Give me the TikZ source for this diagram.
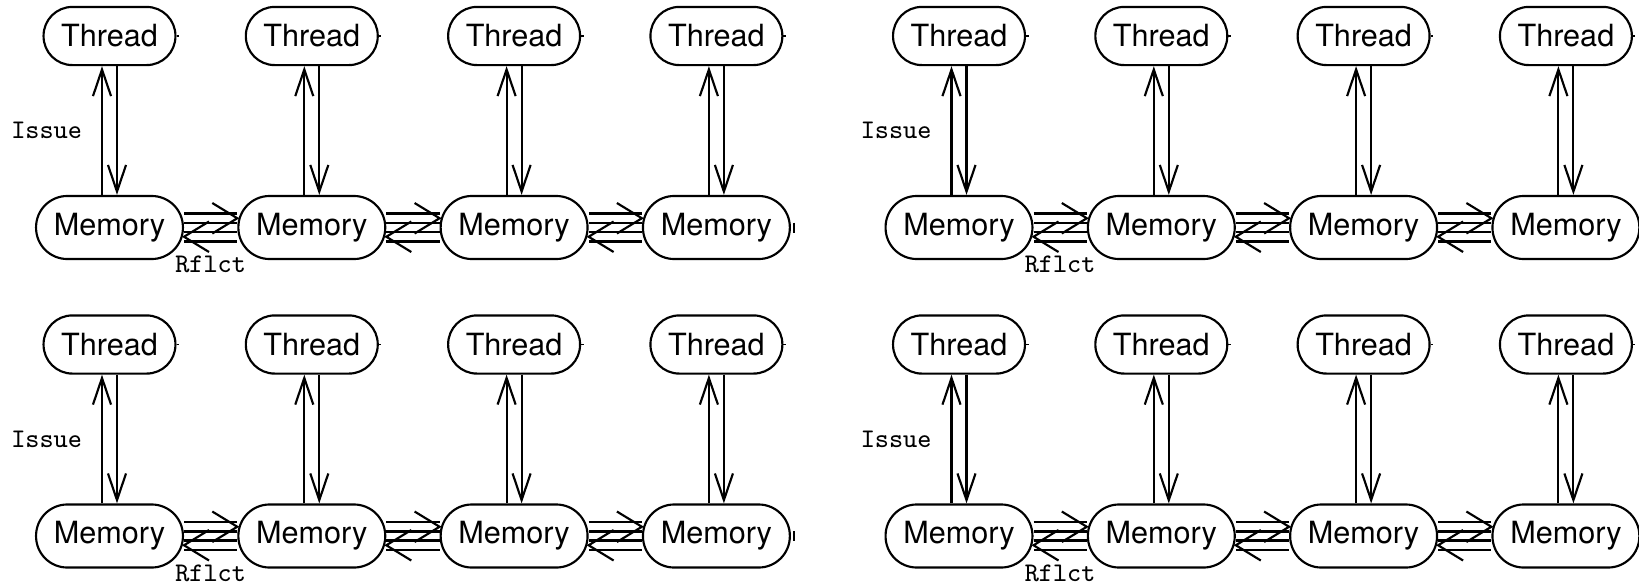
\documentclass[tikz,border=0pt]{standalone}
\usepackage{fontspec}
\setmainfont{TeX Gyre Heros}
\usetikzlibrary{arrows.meta}

\begin{document}
\begin{tikzpicture}[x=0.3268pt,y=0.3268pt,line width=0.7pt,
    >={Straight Barb[length=8.7pt,width=5.9pt]},
    thr/.style={draw,rounded corners=9.4pt,inner sep=0pt,minimum width=43.1pt,minimum height=19pt,font=\fontsize{10}{12}\selectfont},
    mem/.style={thr,rounded corners=10.2pt,minimum width=48pt,minimum height=20.6pt},
    rail/.style={double,double distance=2.4pt},
    lbl/.style={font=\ttfamily\fontsize{8.8}{10}\selectfont,inner sep=0pt}]
    \useasboundingbox (0,0) rectangle (1639,584);
    \foreach \p in {0,1}{
      \foreach \r/\yt/\ym in {0/548/356.5,1/239.5/48}{
        \foreach \c in {0,...,3}{
          \node[thr] (t\p\r\c) at (109.5+849.5*\p+202.3*\c,\yt) {Thread};
          \node[mem] (m\p\r\c) at (109.5+849.5*\p+202.3*\c,\ym) {Memory};
          \draw ([shift={(-7.5,0)}]m\p\r\c.north) edge[->] ([shift={(-7.5,0)}]t\p\r\c.south)
                ([shift={(7.5,0)}]t\p\r\c.south) edge[->] ([shift={(7.5,0)}]m\p\r\c.north);
          \draw[line width=0.5pt] (t\p\r\c.east) --++(2.5,0);
        }
        \foreach \c [count=\d] in {0,1,2}{
          \draw[rail] ([shift={(0,9.25)}]m\p\r\c.east) -- ([shift={(0,9.25)}]m\p\r\d.west);
          \draw[rail] ([shift={(0,-9.25)}]m\p\r\c.east) -- ([shift={(0,-9.25)}]m\p\r\d.west);
          \draw ([shift={(-25,24.5)}]m\p\r\d.west) --++(25,-15.25) --++(-25,-15.25);
          \draw ([shift={(25,6)}]m\p\r\c.east) --++(-25,-15.25) --++(25,-15.25);
        }
        \draw ([shift={(3.5,5)}]m\p\r3.east) --++(0,-10);
        \path ([shift={(-7.5,0)}]m\p\r0.north) -- node[lbl,left=6.2pt] (is\p\r) {Issue} ([shift={(-7.5,0)}]t\p\r0.south);
        \path ([shift={(0,-9.25)}]m\p\r0.east) -- node[lbl,below=6pt] (rf\p\r) {Rflct} ([shift={(0,-9.25)}]m\p\r1.west);
      }
    }
\end{tikzpicture}
\end{document}
